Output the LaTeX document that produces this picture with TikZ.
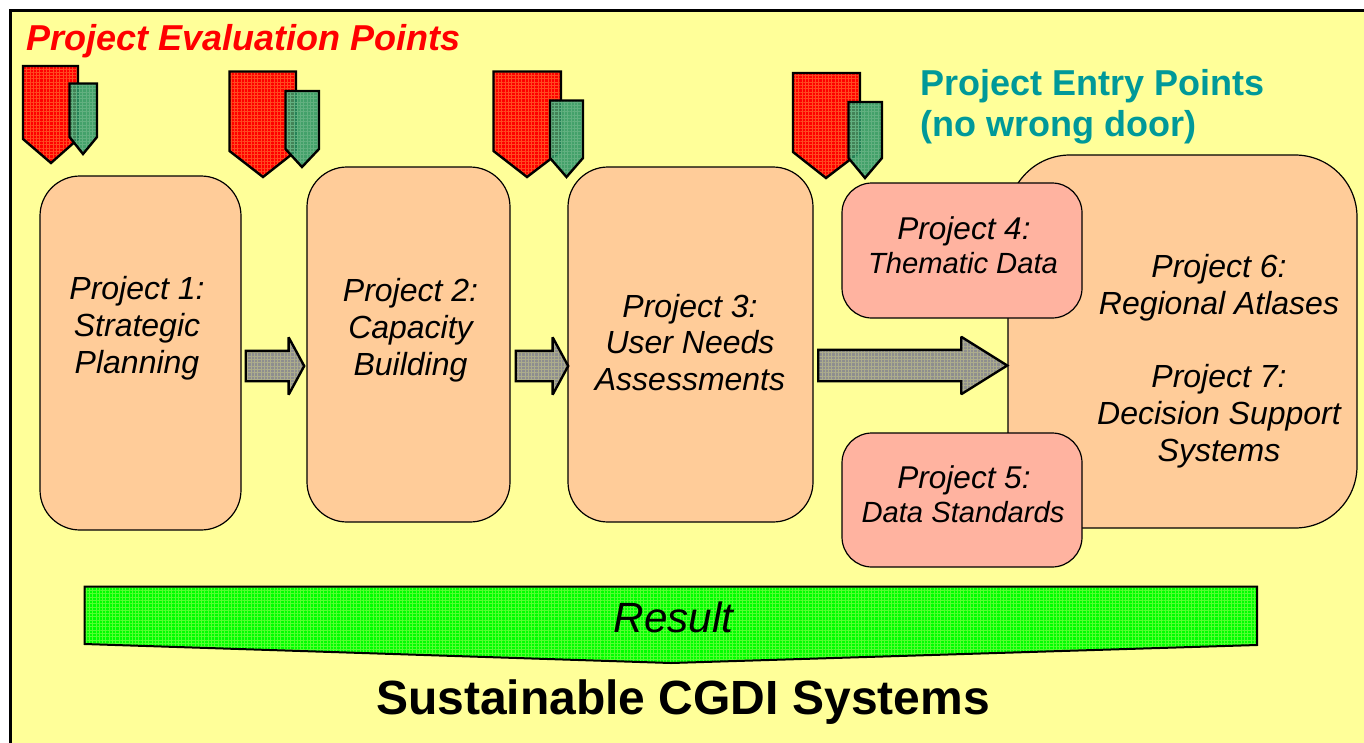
\documentclass[tikz,border=0pt]{standalone}
\usepackage{fontspec}
\setmainfont{Liberation Sans}
\usetikzlibrary{shapes.arrows,patterns.meta}
\definecolor{bgy}{HTML}{FFFF99}
\definecolor{peach}{HTML}{FFCC99}
\definecolor{salmon}{HTML}{FFB3A0}
\definecolor{tealtxt}{HTML}{009999}
\definecolor{redgrain}{HTML}{FF4A20}
\definecolor{tealbase}{HTML}{2A9464}
\definecolor{tealgrain}{HTML}{62B080}
\definecolor{graybase}{HTML}{8E8E8E}
\definecolor{graygrain}{HTML}{ACAC8C}
\definecolor{greengrain}{HTML}{55FF30}
\tikzset{
  grain/.style n args={2}{preaction={fill=#1},
    preaction={pattern={Lines[angle=0,distance=3.3pt,line width=.4pt]},pattern color=#2},
    preaction={pattern={Lines[angle=90,distance=3.3pt,line width=.4pt]},pattern color=#2}},
  projbox/.style={draw=black,line width=1.2pt,fill=peach,rectangle,inner sep=0pt},
  subbox/.style={projbox,fill=salmon,rounded corners=30pt},
  ptext/.style={font=\fontsize{32}{36.8}\selectfont\itshape,align=center,inner sep=0pt},
  stext/.style={font=\fontsize{29.2}{34}\selectfont\itshape,align=center,inner sep=0pt},
  redtag/.style={draw=black,line width=2.4pt,line join=miter,grain={red}{redgrain}},
  tealtag/.style={draw=black,line width=2.4pt,line join=miter,
    preaction={fill=tealbase,fill opacity=.88},
    preaction={pattern={Lines[angle=0,distance=3.3pt,line width=.4pt]},pattern color=tealgrain},
    preaction={pattern={Lines[angle=90,distance=3.3pt,line width=.4pt]},pattern color=tealgrain}},
  flow/.style={single arrow,draw=black,line width=2.4pt,anchor=tail,inner xsep=0pt,
    grain={graybase}{graygrain},shape border rotate=0,miter limit=2}
}
\begin{document}
\begin{tikzpicture}[x=1pt,y=-1pt]
\useasboundingbox (0,0) rectangle (1364,742);
\clip (0,0) rectangle (1364,742);
\fill[white] (0,0) rectangle (1364,742);
\draw[line width=2.6pt,fill=bgy] (10.5,10.5) rectangle (1380,760);

\node[anchor=west,inner sep=0pt,text=red,font=\fontsize{36}{40}\selectfont\bfseries\itshape] (evalt) at (26,41.5) {Project Evaluation Points};
\node[anchor=west,inner sep=0pt,text=tealtxt,font=\fontsize{36}{41}\selectfont\bfseries,align=left] (entryt) at (920,106.5) {Project Entry Points\\(no wrong door)};

% evaluation tags
\draw[redtag] (23,66) -- (78,66) -- (78,139) -- (51,163) -- (23,139) -- cycle;
\draw[tealtag] (69.5,83.5) -- (97,83.5) -- (97,137) -- (83,154) -- (69.5,137) -- cycle;
\draw[redtag] (229.5,71.5) -- (296,71.5) -- (296,151) -- (263,177) -- (229.5,151) -- cycle;
\draw[tealtag] (285.5,91) -- (319,91) -- (319,149) -- (302,167) -- (285.5,149) -- cycle;
\draw[redtag] (493.5,71.5) -- (561,71.5) -- (561,151) -- (527,177) -- (493.5,151) -- cycle;
\draw[tealtag] (550,100.5) -- (583,100.5) -- (583,158) -- (566.5,177) -- (550,158) -- cycle;
\draw[redtag] (793,73) -- (860,73) -- (860,152) -- (826,178) -- (793,152) -- cycle;
\draw[tealtag] (848.5,102) -- (882,102) -- (882,158) -- (865,178) -- (848.5,158) -- cycle;

% project boxes
\node[projbox,rounded corners=40pt,minimum width=201pt,minimum height=354pt] (p1) at (140.5,353) {};
\node[projbox,rounded corners=40pt,minimum width=203pt,minimum height=355pt] (p2) at (408.5,344.5) {};
\node[projbox,rounded corners=40pt,minimum width=245pt,minimum height=355pt] (p3) at (690.5,344.5) {};
\node[projbox,rounded corners=62pt,minimum width=349pt,minimum height=373pt] (p6) at (1182.5,341.5) {};
\node[subbox,minimum width=240pt,minimum height=135pt] (p4) at (962,250.5) {};
\node[subbox,minimum width=240pt,minimum height=134pt] (p5) at (962,500) {};

\node[ptext] (t1) at (137,328.5) {Project 1:\\Strategic\\Planning};
\node[ptext] (t2) at (410.5,330) {Project 2:\\Capacity\\Building};
\node[ptext] (t3) at (690,342.5) {Project 3:\\User Needs\\Assessments};
\node[ptext,font=\fontsize{31.5}{36.8}\selectfont\itshape] (t4a) at (964,231) {Project 4:};
\node[stext] (t4b) at (963,263.5) {Thematic Data};
\node[ptext,font=\fontsize{31.5}{36.8}\selectfont\itshape] (t5a) at (964,480) {Project 5:};
\node[stext] (t5b) at (963,512.5) {Data Standards};
\node[ptext] (t6) at (1219,288) {Project 6:\\Regional Atlases};
\node[ptext] (t7) at (1219,416.5) {Project 7:\\Decision Support\\Systems};

% flow arrows
\node[flow,inner ysep=14pt,minimum height=58.5pt,single arrow head extend=13.5pt,single arrow tip angle=123] (a1) at (244.5,366) {};
\node[flow,inner ysep=14pt,minimum height=52.5pt,single arrow head extend=13.5pt,single arrow tip angle=123] (a2) at (514.5,366) {};
\node[flow,inner ysep=14.5pt,minimum height=189pt,single arrow head extend=13pt,single arrow tip angle=64] (a3) at (817,365.5) {};

% result
\path[draw=black,line width=2pt,line join=miter,grain={green}{greengrain}] (84.5,586.5) -- (1257,586.5) -- (1257,645) -- (671,663) -- (84.5,644) -- cycle;
\node[inner sep=0pt,font=\fontsize{42.3}{46}\selectfont\itshape] (res) at (673.5,617.5) {Result};
\node[inner sep=0pt,font=\fontsize{48}{52}\selectfont\bfseries] (cgdi) at (683,702) {Sustainable CGDI Systems};
\end{tikzpicture}
\end{document}
